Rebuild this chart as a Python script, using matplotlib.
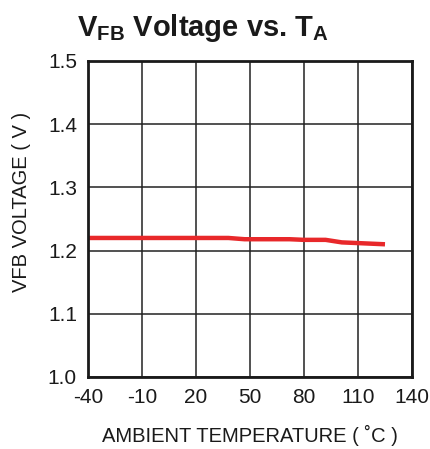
import matplotlib
matplotlib.use("Agg")
from matplotlib import pyplot as plt

# temperature (C) and feedback voltage (V)
temp = [-40, -10, 20, 38, 47, 72, 80, 92, 101, 125]
vfb = [1.220, 1.220, 1.220, 1.220, 1.218, 1.218, 1.217, 1.217, 1.213, 1.210]

x_ticks = [-40, -10, 20, 50, 80, 110, 140]
y_ticks = [1.0, 1.1, 1.2, 1.3, 1.4, 1.5]

plt.rcParams['font.family'] = ['Liberation Sans', 'DejaVu Sans']
plt.rcParams['mathtext.fontset'] = 'custom'
plt.rcParams['mathtext.rm'] = 'Liberation Sans'
plt.rcParams['mathtext.bf'] = 'Liberation Sans:bold'

fig = plt.figure(figsize=(4.3, 4.49), dpi=100)
ax = fig.add_axes([88 / 430, 1 - 377 / 449, 324 / 430, 316 / 449])

ax.plot(temp, vfb, color='#e8282a', linewidth=3.2, solid_capstyle='butt')

ax.set_xlim(-40, 140)
ax.set_ylim(1.0, 1.5)
ax.set_xticks(x_ticks)
ax.set_xticklabels([str(t) for t in x_ticks])
ax.set_yticks(y_ticks)
ax.set_yticklabels([f'{v:.1f}' for v in y_ticks])
ax.tick_params(length=0, labelsize=15, colors='#1a1a1a')
ax.tick_params(axis='x', pad=8)
ax.tick_params(axis='y', pad=8)
ax.grid(True, color='#222222', linewidth=1.1)
for s in ax.spines.values():
    s.set_linewidth(2.0)
    s.set_color('#1a1a1a')

ax.set_xlabel('AMBIENT TEMPERATURE ( ˚C )', fontsize=14.5, labelpad=13, color='#1a1a1a')
ax.set_ylabel('VFB VOLTAGE ( V )', fontsize=14.5, labelpad=12, color='#1a1a1a', y=0.554)

fig.text(203 / 430, 1 - 28 / 449, r'V$_\mathbf{FB}$ Voltage vs. T$_\mathbf{A}$',
         fontsize=21, fontweight='bold', ha='center', va='center', color='#1a1a1a')

fig.savefig('out.png', dpi=100)
